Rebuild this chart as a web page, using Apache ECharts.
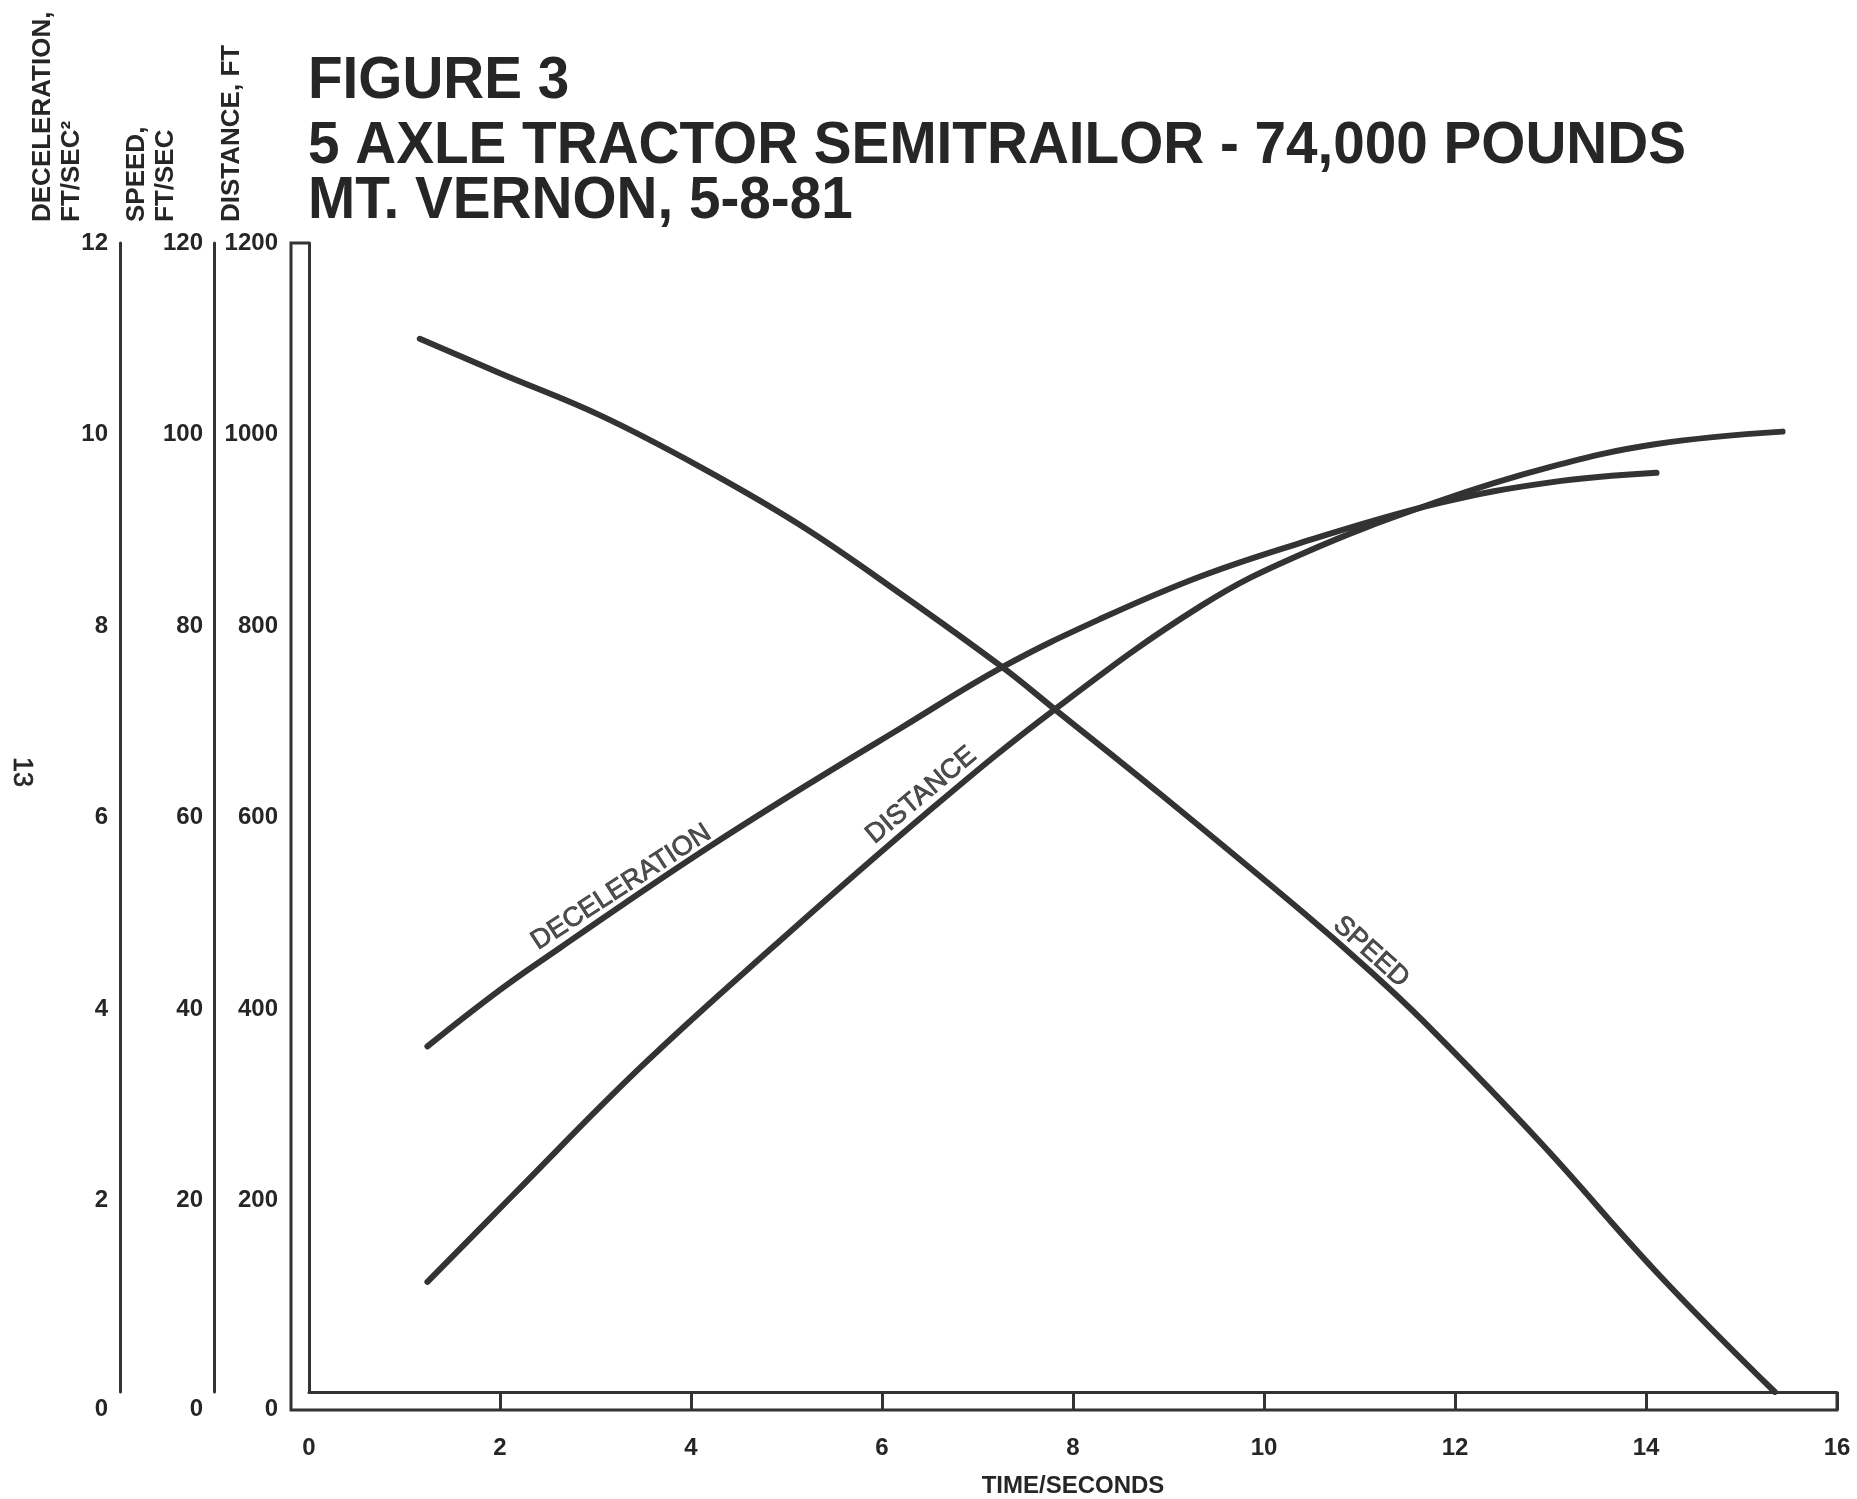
<!DOCTYPE html>
<html>
<head>
<meta charset="utf-8">
<script src="https://cdn.jsdelivr.net/npm/echarts@6/dist/echarts.min.js"></script>
<style>
  html, body { margin: 0; padding: 0; background: #ffffff; }
  #chart { width: 1857px; height: 1499px; }
</style>
</head>
<body>
<div id="chart"></div>
<script>
// Axis scales
const timeTicks = [0, 2, 4, 6, 8, 10, 12, 14, 16];          // seconds
const decelTicks = [0, 2, 4, 6, 8, 10, 12];                 // ft/sec²
const speedTicks = [0, 20, 40, 60, 80, 100, 120];           // ft/sec
const distanceTicks = [0, 200, 400, 600, 800, 1000, 1200];  // ft

// Deceleration, ft/sec²
const decelTime   = [1.24, 2.0, 2.63, 3.3, 4.2, 5.2, 6.19, 7.26, 8.3, 9.34, 10.39, 11.82, 13.0, 14.11];
const decelValues = [3.61, 4.2, 4.64, 5.1, 5.7, 6.33, 6.93, 7.57, 8.08, 8.52, 8.87, 9.28, 9.5, 9.6];

// Speed, ft/sec
const speedTime   = [1.16, 2.0, 3.05, 4.1, 5.15, 6.19, 7.26, 7.81, 8.92, 10.42, 11.04, 11.66, 12.9, 14.14, 15.35];
const speedValues = [110.0, 106.4, 102.0, 96.6, 90.5, 83.4, 75.7, 71.3, 62.4, 50.0, 44.6, 38.8, 26.0, 12.2, 0];

// Distance, ft
const distanceTime   = [1.24, 2.14, 3.47, 4.86, 6.47, 7.81, 9.34, 10.39, 11.82, 12.99, 14.11, 15.43];
const distanceValues = [115, 206, 339, 465, 605, 713, 821, 875, 930, 966, 990, 1003];

// Curve names written along each curve, anchored at one of its points
const curveNames = ['DECELERATION', 'SPEED', 'DISTANCE'];
const curveNameIndex = [3, 10, 4];
const curveNameAngle = [33, -42, 40];
const curveNameShift = [[4, 2], [0, 2], [4, 0]];

const titleLines = [
  'FIGURE 3',
  '5 AXLE TRACTOR SEMITRAILOR - 74,000 POUNDS',
  'MT. VERNON, 5-8-81'
];

const INK = '#262626';
const LINE = '#333333';
const FONT = '"Liberation Sans", Arial, Helvetica, sans-serif';

const zip = (xs, ys) => xs.map((x, i) => [x, ys[i]]);
const seriesData = [zip(decelTime, decelValues), zip(speedTime, speedValues), zip(distanceTime, distanceValues)];

// Tick labels: the zero labels sit a little lower than the baseline
function tickLabel(v) { return v === 0 ? '{z|0}' : String(v); }
const labelStyle = {
  color: INK, fontSize: 24, fontWeight: 'bold', fontFamily: FONT,
  formatter: tickLabel,
  rich: { z: { color: INK, fontSize: 24, fontWeight: 'bold', fontFamily: FONT, padding: [34, 0, 0, 0] } }
};

function leftAxis(ticks, offset, margin) {
  const step = ticks[1] - ticks[0];
  return {
    type: 'value', position: 'left', offset: offset,
    min: ticks[0], max: ticks[ticks.length - 1], interval: step,
    axisLine: { show: true, onZero: false, lineStyle: { color: LINE, width: 3 } },
    axisTick: { show: false },
    splitLine: { show: false },
    axisLabel: Object.assign({ margin: margin }, labelStyle)
  };
}

const chart = echarts.init(document.getElementById('chart'), null, { renderer: 'canvas' });

const lineSeries = seriesData.map((d, i) => ({
  type: 'line', yAxisIndex: i, data: d,
  smooth: 0.4, showSymbol: false, silent: true,
  lineStyle: { color: LINE, width: 6, cap: 'round' }
}));

const nameSeries = seriesData.map((d, i) => ({
  type: 'scatter', yAxisIndex: i, silent: true,
  data: [d[curveNameIndex[i]]],
  symbolSize: 1, itemStyle: { color: 'rgba(0,0,0,0)' },
  label: {
    show: true, position: 'top', distance: 4,
    rotate: curveNameAngle[i], offset: curveNameShift[i],
    formatter: curveNames[i],
    color: INK, fontSize: 27, fontFamily: FONT,
    textBorderColor: INK, textBorderWidth: 0.8
  }
}));

// Title lines share one horizontal condensing factor
const measure = document.createElement('canvas').getContext('2d');
measure.font = 'bold 60px "Liberation Sans"';
const condense = 1378 / measure.measureText(titleLines[1]).width;
const titleY = [81, 146, 201];

const titleGraphics = titleLines.map((t, i) => ({
  type: 'text', x: 308, y: titleY[i], scaleX: condense, silent: true,
  style: { text: t, fill: INK, fontSize: 60, fontWeight: 'bold', fontFamily: FONT,
           align: 'left', verticalAlign: 'middle' }
}));

const axisTitles = [
  { text: 'DECELERATION,\nFT/SEC²', x: 57 },
  { text: 'SPEED,\nFT/SEC', x: 151 },
  { text: 'DISTANCE, FT', x: 232 }
].map(a => ({
  type: 'text', x: a.x, y: 222, rotation: Math.PI / 2, silent: true,
  style: { text: a.text, fill: INK, fontSize: 26, fontWeight: 'bold', fontFamily: FONT,
           lineHeight: 29, align: 'left', verticalAlign: 'middle' }
}));

const pageNumber = {
  type: 'text', x: 21, y: 772, rotation: -Math.PI / 2, silent: true,
  style: { text: '13', fill: INK, fontSize: 27, fontFamily: FONT, align: 'center', verticalAlign: 'middle',
           stroke: INK, lineWidth: 0.6 }
};

chart.setOption({
  animation: false,
  backgroundColor: '#ffffff',
  grid: { left: 309, top: 243, right: 20, bottom: 107, outerBoundsMode: 'none' },
  xAxis: {
    type: 'value', min: timeTicks[0], max: timeTicks[timeTicks.length - 1], interval: timeTicks[1] - timeTicks[0],
    axisLine: { show: true, onZero: false, lineStyle: { color: LINE, width: 3 } },
    axisTick: { show: true, inside: false, length: 18, customValues: timeTicks.slice(1),
                lineStyle: { color: LINE, width: 3 } },
    splitLine: { show: false },
    axisLabel: { margin: 44, color: INK, fontSize: 24, fontWeight: 'bold', fontFamily: FONT },
    name: 'TIME/SECONDS', nameLocation: 'middle', nameGap: 82,
    nameTextStyle: { color: INK, fontSize: 24, fontWeight: 'bold', fontFamily: FONT }
  },
  yAxis: [
    leftAxis(decelTicks, 189, 12),
    leftAxis(speedTicks, 95, 11),
    leftAxis(distanceTicks, 0, 31)
  ],
  series: lineSeries.concat(nameSeries),
  graphic: titleGraphics.concat(axisTitles, [pageNumber])
});

// Outer line of the double frame, following the plot area at a fixed gap
const GAP = 18;
const origin = chart.convertToPixel({ xAxisIndex: 0, yAxisIndex: 2 }, [0, 0]);
const topLeft = chart.convertToPixel({ xAxisIndex: 0, yAxisIndex: 2 }, [0, distanceTicks[distanceTicks.length - 1]]);
const endRight = chart.convertToPixel({ xAxisIndex: 0, yAxisIndex: 2 }, [timeTicks[timeTicks.length - 1], 0]);
chart.setOption({
  graphic: titleGraphics.concat(axisTitles, [pageNumber, {
    type: 'polyline', silent: true,
    shape: { points: [
      [topLeft[0], topLeft[1]],
      [topLeft[0] - GAP, topLeft[1]],
      [origin[0] - GAP, origin[1] + GAP],
      [endRight[0], endRight[1] + GAP],
      [endRight[0], endRight[1]]
    ] },
    style: { stroke: LINE, lineWidth: 3, fill: null }
  }])
});
</script>
</body>
</html>
